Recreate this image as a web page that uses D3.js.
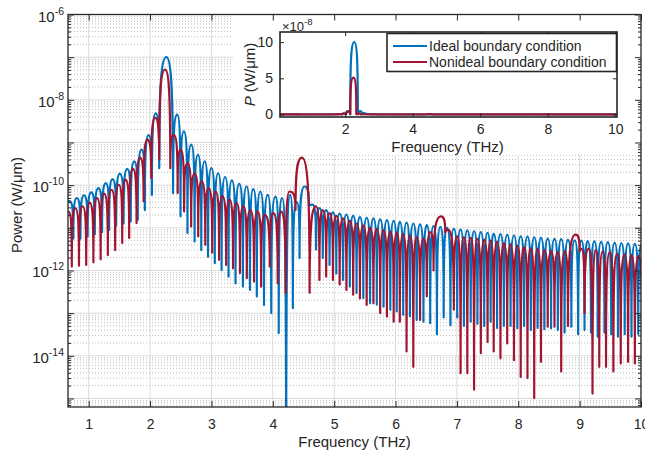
<!DOCTYPE html>
<html>
<head>
<meta charset="utf-8">
<script src="https://cdn.jsdelivr.net/npm/d3@7"></script>
<style>
  body { margin: 0; background: #fff; }
  svg { display: block; }
</style>
</head>
<body>
<svg id="chart" width="645" height="453"></svg>
<script>
// ---- data (frequency in THz, power in W/um) ----
// each series alternates peak / dip of the side lobes
const blueFreq = [
  0.07, 0.69, 0.75, 0.808, 0.866, 0.923, 0.983, 1.043, 1.10, 1.157,
  1.218, 1.279, 1.333, 1.387, 1.448, 1.508, 1.568, 1.628, 1.685, 1.743,
  1.80, 1.862, 1.915, 1.977, 2.03, 2.092, 2.15, 2.267, 2.375, 2.443,
  2.497, 2.551, 2.61, 2.672, 2.726, 2.78, 2.835, 2.89, 2.945, 3.0,
  3.055, 3.109, 3.166, 3.224, 3.279, 3.333, 3.393, 3.453, 3.513, 3.573,
  3.628, 3.682, 3.74, 3.797, 3.857, 3.917, 3.975, 4.043, 4.097, 4.152,
  4.218, 4.283, 4.327, 4.39, 4.436, 4.518, 4.59, 4.65, 4.705, 4.76,
  4.815, 4.87, 4.925, 4.98, 5.035, 5.09, 5.145, 5.20, 5.255, 5.31,
  5.365, 5.42, 5.475, 5.53, 5.585, 5.64, 5.695, 5.75, 5.805, 5.86,
  5.915, 5.97, 6.02, 6.07, 6.125, 6.18, 6.235, 6.29, 6.345, 6.40,
  6.455, 6.51, 6.565, 6.62, 6.675, 6.73, 6.785, 6.84, 6.895, 6.95,
  7.005, 7.06, 7.115, 7.17, 7.225, 7.28, 7.335, 7.39, 7.445, 7.50,
  7.55, 7.60, 7.655, 7.71, 7.765, 7.82, 7.875, 7.93, 7.985, 8.04,
  8.095, 8.15, 8.205, 8.26, 8.315, 8.37, 8.425, 8.48, 8.535, 8.59,
  8.645, 8.70, 8.755, 8.81, 8.865, 8.92, 8.975, 9.03, 9.08, 9.13,
  9.185, 9.24, 9.295, 9.35, 9.405, 9.46, 9.515, 9.57, 9.625, 9.68,
  9.735, 9.79, 9.845, 9.90, 9.955, 10.01
];
const bluePower = [
  2.0e-11, 4.2e-11, 5.6e-12, 5.0e-11, 5.6e-12, 5.8e-11, 6.3e-12, 6.8e-11, 7.1e-12, 8.5e-11,
  7.9e-12, 1.12e-10, 8.9e-12, 1.38e-10, 1.12e-11, 1.86e-10, 1.26e-11, 2.4e-10, 1.41e-11, 3.6e-10,
  1.55e-11, 6.8e-10, 2.6e-11, 1.48e-9, 5.9e-11, 4.8e-9, 2.5e-10, 1.0e-7, 6.5e-11, 4.5e-9,
  1.86e-11, 1.82e-9, 7.6e-12, 8.9e-10, 4.8e-12, 5.1e-10, 3.0e-12, 3.6e-10, 2.1e-12, 2.5e-10,
  1.48e-12, 1.9e-10, 1.02e-12, 1.55e-10, 7.2e-13, 1.29e-10, 5.0e-13, 1.07e-10, 4.2e-13, 9.3e-11,
  3.5e-13, 8.1e-11, 2.45e-13, 7.1e-11, 1.55e-13, 5.9e-11, 1.0e-13, 5.4e-11, 3.4e-14, 5.0e-11,
  1.0e-17, 5.9e-11, 1.3e-13, 4.0e-11, 1.95e-12, 9.3e-11, 3.2e-11, 3.5e-11, 3.1e-12, 2.9e-11,
  1.95e-12, 2.6e-11, 1.35e-12, 2.3e-11, 8.5e-13, 2.15e-11, 6.0e-13, 2.05e-11, 4.2e-13, 1.9e-11,
  2.95e-13, 1.78e-11, 2.25e-13, 1.7e-11, 1.7e-13, 1.66e-11, 1.58e-13, 1.58e-11, 1.41e-13, 1.51e-11,
  1.2e-13, 1.45e-11, 1.1e-13, 1.38e-11, 9.1e-14, 1.32e-11, 8.5e-14, 1.26e-11, 6.9e-14, 1.2e-11,
  6.3e-14, 1.15e-11, 5.8e-14, 1.1e-11, 3.2e-14, 1.05e-11, 7.9e-14, 1.0e-11, 5.2e-14, 9.5e-12,
  7.9e-14, 9.1e-12, 5.0e-14, 8.7e-12, 6.3e-14, 8.3e-12, 5.6e-14, 7.9e-12, 5.0e-14, 7.6e-12,
  6.3e-14, 7.2e-12, 4.5e-14, 7.1e-12, 5.0e-14, 6.8e-12, 5.0e-14, 6.6e-12, 4.4e-14, 6.3e-12,
  5.0e-14, 6.2e-12, 4.0e-14, 6.0e-12, 4.5e-14, 5.8e-12, 4.2e-14, 5.6e-12, 4.4e-14, 5.5e-12,
  4.0e-14, 5.4e-12, 3.5e-14, 5.2e-12, 4.8e-14, 5.1e-12, 3.2e-14, 5.0e-12, 4.0e-14, 4.9e-12,
  3.5e-14, 4.8e-12, 2.8e-14, 4.7e-12, 3.5e-14, 4.6e-12, 3.2e-14, 4.5e-12, 2.8e-14, 4.4e-12,
  3.2e-14, 4.3e-12, 2.8e-14, 4.2e-12, 3.2e-14, 4.1e-12
];

const redFreq = [
  0.07, 0.672, 0.725, 0.781, 0.842, 0.902, 0.96, 1.016, 1.077, 1.137,
  1.195, 1.252, 1.312, 1.372, 1.432, 1.492, 1.547, 1.601, 1.66, 1.721,
  1.78, 1.836, 1.895, 1.956, 2.02, 2.082, 2.15, 2.245, 2.33, 2.388,
  2.45, 2.497, 2.555, 2.612, 2.67, 2.727, 2.785, 2.842, 2.90, 2.956,
  3.013, 3.071, 3.125, 3.18, 3.24, 3.295, 3.352, 3.41, 3.465, 3.519,
  3.577, 3.634, 3.694, 3.754, 3.81, 3.868, 3.95, 4.01, 4.08, 4.136,
  4.21, 4.272, 4.37, 4.475, 4.60, 4.705, 4.76, 4.815, 4.87, 4.925,
  4.98, 5.035, 5.09, 5.145, 5.20, 5.255, 5.31, 5.365, 5.42, 5.475,
  5.53, 5.585, 5.64, 5.695, 5.75, 5.805, 5.86, 5.915, 5.97, 6.02,
  6.07, 6.125, 6.18, 6.235, 6.29, 6.345, 6.40, 6.455, 6.51, 6.565,
  6.62, 6.74, 6.81, 6.86, 6.95, 7.005, 7.06, 7.115, 7.17, 7.225,
  7.28, 7.335, 7.39, 7.445, 7.50, 7.55, 7.60, 7.655, 7.71, 7.765,
  7.82, 7.875, 7.93, 7.985, 8.04, 8.095, 8.15, 8.205, 8.26, 8.315,
  8.37, 8.425, 8.48, 8.535, 8.59, 8.645, 8.70, 8.755, 8.81, 8.934,
  9.0, 9.03, 9.08, 9.145, 9.21, 9.265, 9.32, 9.375, 9.43, 9.49,
  9.55, 9.61, 9.67, 9.73, 9.79, 9.845, 9.90, 9.96, 10.02
];
const redPower = [
  1.5e-11, 2.4e-11, 1.23e-12, 2.9e-11, 1.29e-12, 3.2e-11, 1.35e-12, 3.9e-11, 1.55e-12, 5.0e-11,
  1.82e-12, 6.3e-11, 2.3e-12, 7.8e-11, 3.0e-12, 1.02e-10, 4.4e-12, 1.35e-10, 5.8e-12, 2.4e-10,
  1.29e-11, 4.4e-10, 4.2e-11, 1.17e-9, 1.48e-10, 3.8e-9, 4.0e-10, 5.1e-8, 2.5e-10, 1.51e-9,
  6.5e-11, 6.8e-10, 2.4e-11, 3.3e-10, 1.07e-11, 1.9e-10, 6.3e-12, 1.23e-10, 4.0e-12, 8.5e-11,
  2.6e-12, 7.1e-11, 1.78e-12, 5.5e-11, 1.35e-12, 4.6e-11, 1.12e-12, 3.8e-11, 8.7e-13, 3.2e-11,
  6.6e-13, 2.6e-11, 5.5e-13, 2.4e-11, 4.2e-13, 2.0e-11, 1.23e-12, 2.2e-11, 5.0e-13, 2.4e-11,
  3.0e-13, 7.1e-11, 2.6e-11, 4.4e-10, 3.0e-13, 3.2e-11, 6.0e-13, 2.6e-11, 7.2e-13, 2.2e-11,
  6.0e-13, 1.9e-11, 4.7e-13, 1.66e-11, 3.5e-13, 1.45e-11, 2.7e-13, 1.26e-11, 2.2e-13, 1.12e-11,
  1.55e-13, 1.0e-11, 1.7e-13, 9.3e-12, 1.0e-13, 8.7e-12, 8.3e-14, 8.1e-12, 6.3e-14, 7.6e-12,
  6.3e-14, 7.1e-12, 1.26e-14, 6.6e-12, 5.5e-15, 6.0e-12, 6.9e-14, 5.6e-12, 2.5e-13, 7.9e-12,
  1.0e-12, 1.86e-11, 7.9e-12, 8.9e-12, 1.2e-13, 6.3e-12, 3.9e-15, 6.0e-12, 3.9e-15, 5.8e-12,
  1.6e-15, 5.5e-12, 1.15e-14, 5.2e-12, 2.1e-14, 5.0e-12, 1.26e-14, 4.7e-12, 8.7e-15, 4.4e-12,
  1.95e-14, 4.1e-12, 7.9e-15, 3.8e-12, 3.2e-15, 3.5e-12, 3.0e-15, 3.3e-12, 1.02e-15, 3.2e-12,
  7.2e-15, 3.0e-12, 4.8e-14, 2.8e-12, 4.8e-14, 2.7e-12, 4.3e-15, 2.8e-12, 5.0e-14, 6.9e-12,
  2.8e-12, 3.2e-12, 1.0e-13, 3.2e-12, 1.3e-15, 3.0e-12, 5.5e-15, 2.8e-12, 5.5e-15, 2.7e-12,
  4.3e-15, 2.5e-12, 6.6e-15, 2.4e-12, 7.2e-15, 2.3e-12, 6.6e-15, 2.2e-12, 9.5e-15
];

const seriesNames = ["Ideal boundary condition", "Nonideal boundary condition"];
const seriesColors = ["#0072BD", "#A2142F"];

const xTicks = [1, 2, 3, 4, 5, 6, 7, 8, 9, 10];
const yDecades = [1e-15, 1e-14, 1e-13, 1e-12, 1e-11, 1e-10, 1e-9, 1e-8, 1e-7, 1e-6];
const yLabelExp = [-6, -8, -10, -12, -14];
const insetXTicks = [2, 4, 6, 8, 10];
const insetYTicks = [0, 5e-8, 1e-7];

// ---- layout ----
const FONT = "'Liberation Sans', Arial, Helvetica, sans-serif";
const INK = "#262626";
const plot = { left: 68, right: 641, top: 14.5, bottom: 407 };
const inset = { left: 280, right: 617, top: 32, bottom: 117 };

const svg = d3.select("#chart");

const x = d3.scaleLinear().domain([0.663, 10]).range([plot.left, plot.right]);
const y = d3.scaleLog().domain([6.3e-16, 1e-6]).range([plot.bottom, plot.top]);

const ix = d3.scaleLinear().domain([0.07, 10.05]).range([inset.left, inset.right]);
const iy = d3.scaleLinear().domain([-0.35e-8, 11.4e-8]).range([inset.bottom, inset.top]);

// minor log ticks 2..9 x 10^n inside the y range
const yMinor = [];
for (let e = -16; e <= -7; e++) {
  for (let m = 2; m <= 9; m++) {
    const v = m * Math.pow(10, e);
    if (v > y.domain()[0] && v < y.domain()[1]) yMinor.push(v);
  }
}

// lobes: rise steeply out of a dip, flatten into a rounded peak
function lobePath(freq, power, sx, sy) {
  const p = d3.path();
  const kv = 0.8, kh = 0.7;
  const n = Math.min(freq.length, power.length);
  for (let i = 0; i < n; i++) {
    const X = sx(freq[i]), Y = sy(power[i]);
    if (i === 0) { p.moveTo(X, Y); continue; }
    const X0 = sx(freq[i - 1]), Y0 = sy(power[i - 1]);
    if (power[i] > power[i - 1]) {
      p.bezierCurveTo(X0, Y0 + kv * (Y - Y0), X - kh * (X - X0), Y, X, Y);
    } else {
      p.bezierCurveTo(X0 + kh * (X - X0), Y0, X, Y - kv * (Y - Y0), X, Y);
    }
  }
  return p.toString();
}

const defs = svg.append("defs");
defs.append("clipPath").attr("id", "clipMain")
  .append("rect")
  .attr("x", plot.left).attr("y", plot.top)
  .attr("width", plot.right - plot.left).attr("height", plot.bottom - plot.top);
defs.append("clipPath").attr("id", "clipInset")
  .append("rect")
  .attr("x", inset.left).attr("y", inset.top)
  .attr("width", inset.right - inset.left).attr("height", inset.bottom - inset.top);

// ---- main grid ----
const grid = svg.append("g").attr("clip-path", "url(#clipMain)");
grid.selectAll("line.minor")
  .data(yMinor)
  .join("line")
  .attr("class", "minor")
  .attr("x1", plot.left).attr("x2", plot.right)
  .attr("y1", d => y(d)).attr("y2", d => y(d))
  .attr("stroke", "#bdbdbd")
  .attr("stroke-width", 1)
  .attr("stroke-dasharray", "1 2");
grid.selectAll("line.hmajor")
  .data(yDecades)
  .join("line")
  .attr("class", "hmajor")
  .attr("x1", plot.left).attr("x2", plot.right)
  .attr("y1", d => y(d)).attr("y2", d => y(d))
  .attr("stroke", "#dcdcdc")
  .attr("stroke-width", 1);
grid.selectAll("line.vmajor")
  .data(xTicks)
  .join("line")
  .attr("class", "vmajor")
  .attr("x1", d => x(d)).attr("x2", d => x(d))
  .attr("y1", plot.top).attr("y2", plot.bottom)
  .attr("stroke", "#dcdcdc")
  .attr("stroke-width", 1);

// ---- main curves ----
const curves = svg.append("g").attr("clip-path", "url(#clipMain)");
[[blueFreq, bluePower], [redFreq, redPower]].forEach(([f, p], i) => {
  curves.append("path")
    .attr("d", lobePath(f, p, x, y))
    .attr("fill", "none")
    .attr("stroke", seriesColors[i])
    .attr("stroke-width", 2.2)
    .attr("stroke-linejoin", "round");
});

// white panel behind the inset
svg.append("rect")
  .attr("x", 233).attr("y", plot.top)
  .attr("width", plot.right - 233).attr("height", 155 - plot.top)
  .attr("fill", "#fff");

// ---- main axes box and ticks ----
function styleAxis(g) {
  g.select(".domain").remove();
  g.attr("font-family", FONT).attr("color", INK);
  g.selectAll(".tick line").attr("stroke-width", 1);
}

svg.append("g")
  .attr("transform", `translate(0,${plot.bottom})`)
  .call(d3.axisBottom(x).tickValues(xTicks).tickSizeInner(-6).tickSizeOuter(0)
    .tickPadding(12).tickFormat(d3.format("d")))
  .call(styleAxis)
  .attr("font-size", 14);

svg.append("g")
  .attr("transform", `translate(0,${plot.top})`)
  .call(d3.axisTop(x).tickValues(xTicks).tickSizeInner(-6).tickSizeOuter(0).tickFormat(""))
  .call(styleAxis);

[[d3.axisLeft, plot.left], [d3.axisRight, plot.right]].forEach(([axis, pos]) => {
  svg.append("g")
    .attr("transform", `translate(${pos},0)`)
    .call(axis(y).tickValues(yDecades).tickSizeInner(-6).tickSizeOuter(0).tickFormat(""))
    .call(styleAxis);
  svg.append("g")
    .attr("transform", `translate(${pos},0)`)
    .call(axis(y).tickValues(yMinor).tickSizeInner(-3).tickSizeOuter(0).tickFormat(""))
    .call(styleAxis);
});

svg.append("rect")
  .attr("x", plot.left).attr("y", plot.top)
  .attr("width", plot.right - plot.left).attr("height", plot.bottom - plot.top)
  .attr("fill", "none")
  .attr("stroke", INK)
  .attr("stroke-width", 1.3);

// y tick labels 10^n
const yLab = svg.append("g").attr("font-family", FONT).attr("fill", INK);
yLabelExp.forEach(e => {
  const t = yLab.append("text")
    .attr("x", 64)
    .attr("y", y(Math.pow(10, e)) + 7)
    .attr("text-anchor", "end")
    .attr("font-size", 15);
  t.append("tspan").text("10");
  t.append("tspan").attr("font-size", 10.5).attr("dy", -7).text(`-${-e}`);
});

// axis titles
svg.append("text")
  .attr("x", (plot.left + plot.right) / 2)
  .attr("y", 447)
  .attr("text-anchor", "middle")
  .attr("font-family", FONT).attr("font-size", 15).attr("fill", INK)
  .text("Frequency (THz)");

svg.append("text")
  .attr("transform", "translate(22,205) rotate(-90)")
  .attr("text-anchor", "middle")
  .attr("font-family", FONT).attr("font-size", 15).attr("fill", INK)
  .text("Power (W/\u03bcm)");

// ---- inset ----
const insetCurves = svg.append("g").attr("clip-path", "url(#clipInset)");
[[blueFreq, bluePower], [redFreq, redPower]].forEach(([f, p], i) => {
  insetCurves.append("path")
    .attr("d", lobePath(f, p, ix, iy))
    .attr("fill", "none")
    .attr("stroke", seriesColors[i])
    .attr("stroke-width", 2.2)
    .attr("stroke-linejoin", "round");
});

svg.append("g")
  .attr("transform", `translate(0,${inset.bottom})`)
  .call(d3.axisBottom(ix).tickValues(insetXTicks).tickSizeInner(-4).tickSizeOuter(0)
    .tickPadding(7).tickFormat(d3.format("d")))
  .call(styleAxis)
  .attr("font-size", 14);
svg.append("g")
  .attr("transform", `translate(0,${inset.top})`)
  .call(d3.axisTop(ix).tickValues(insetXTicks).tickSizeInner(-4).tickSizeOuter(0).tickFormat(""))
  .call(styleAxis);
svg.append("g")
  .attr("transform", `translate(${inset.left},0)`)
  .call(d3.axisLeft(iy).tickValues(insetYTicks).tickSizeInner(-4).tickSizeOuter(0)
    .tickPadding(7).tickFormat(d => d3.format("d")(d * 1e8)))
  .call(styleAxis)
  .attr("font-size", 14);
svg.append("g")
  .attr("transform", `translate(${inset.right},0)`)
  .call(d3.axisRight(iy).tickValues(insetYTicks).tickSizeInner(-4).tickSizeOuter(0).tickFormat(""))
  .call(styleAxis);

svg.append("rect")
  .attr("x", inset.left).attr("y", inset.top)
  .attr("width", inset.right - inset.left).attr("height", inset.bottom - inset.top)
  .attr("fill", "none")
  .attr("stroke", INK)
  .attr("stroke-width", 1.6);

// exponent marker
const expo = svg.append("text")
  .attr("x", 282).attr("y", 31)
  .attr("font-family", FONT).attr("font-size", 13).attr("fill", INK);
expo.append("tspan").text("\u00d710");
expo.append("tspan").attr("font-size", 9.5).attr("dy", -6).text("-8");

svg.append("text")
  .attr("x", (inset.left + inset.right) / 2 - 1)
  .attr("y", 152)
  .attr("text-anchor", "middle")
  .attr("font-family", FONT).attr("font-size", 15).attr("fill", INK)
  .text("Frequency (THz)");

const iyLabel = svg.append("text")
  .attr("transform", `translate(255,${(inset.top + inset.bottom) / 2}) rotate(-90)`)
  .attr("text-anchor", "middle")
  .attr("font-family", FONT).attr("font-size", 15).attr("fill", INK);
iyLabel.append("tspan").attr("font-style", "italic").text("P");
iyLabel.append("tspan").text(" (W/\u03bcm)");

// legend
const legend = svg.append("g").attr("transform", "translate(387,33.5)");
legend.append("rect")
  .attr("width", 229.5).attr("height", 38)
  .attr("fill", "#fff")
  .attr("stroke", INK)
  .attr("stroke-width", 1.6);
seriesNames.forEach((name, i) => {
  const row = legend.append("g").attr("transform", `translate(0,${12.5 + i * 16})`);
  row.append("line")
    .attr("x1", 6).attr("x2", 40)
    .attr("stroke", seriesColors[i])
    .attr("stroke-width", 2.2);
  row.append("text")
    .attr("x", 42).attr("y", 5)
    .attr("font-family", FONT).attr("font-size", 14).attr("fill", INK)
    .text(name);
});
</script>
</body>
</html>
